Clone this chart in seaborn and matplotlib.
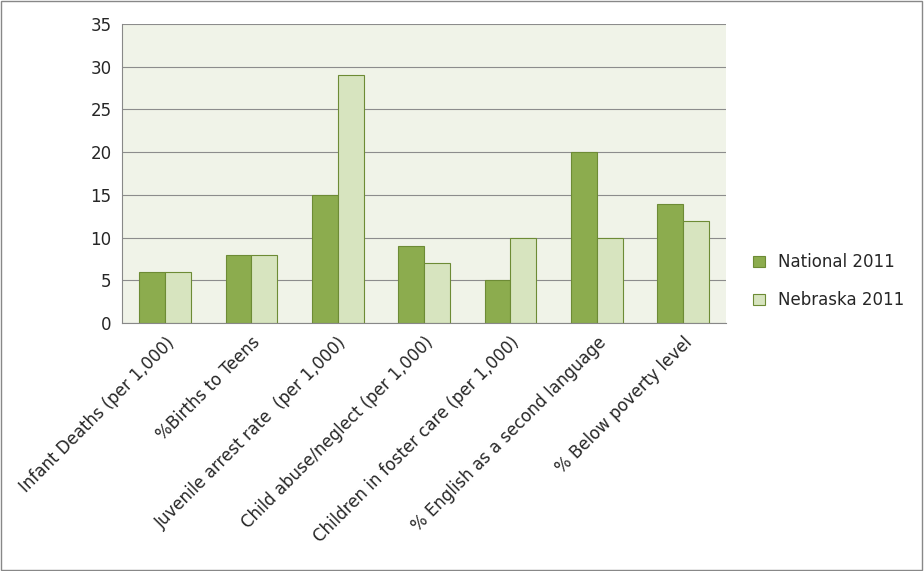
import matplotlib
matplotlib.use("Agg")
import matplotlib.pyplot as plt
import seaborn as sns
import pandas as pd
from matplotlib.patches import Rectangle

categories = ["Infant Deaths (per 1,000)", "%Births to Teens", "Juvenile arrest rate  (per 1,000)",
              "Child abuse/neglect (per 1,000)", "Children in foster care (per 1,000)",
              "% English as a second language", "% Below poverty level"]
national = [6, 8, 15, 9, 5, 20, 14]
nebraska = [6, 8, 29, 7, 10, 10, 12]
series = ["National 2011", "Nebraska 2011"]

df = pd.DataFrame({"cat": categories * 2,
                   "val": national + nebraska,
                   "series": [series[0]] * 7 + [series[1]] * 7})

sns.set_style("white")
plt.rcParams['font.family'] = ['DejaVu Sans']
fig = plt.figure(figsize=(9.24, 5.71), dpi=100)
ax = fig.add_axes([0.132, 0.434, 0.654, 0.524])
ax.set_facecolor("#f0f3e8")
sns.barplot(data=df, x="cat", y="val", hue="series", ax=ax,
            palette=["#8cac4e", "#d7e4bf"], edgecolor="#6d8b35", linewidth=0.8,
            width=0.6, saturation=1)
ax.set_ylim(0, 35)
ax.set_yticks(range(0, 36, 5))
ax.yaxis.grid(True, color="#8c8c8c", linewidth=0.8)
ax.set_axisbelow(True)
ax.set_xlabel("")
ax.set_ylabel("")
ax.set_xlim(-0.5, 6.5)
ax.tick_params(axis="y", labelsize=12, length=4, color="#888888")
ax.set_xticks(range(7))
ax.set_xticklabels(categories, rotation=45, ha="right", rotation_mode="anchor", fontsize=12)
ax.tick_params(axis="x", length=4, color="#888888")
for s in ["top", "right"]:
    ax.spines[s].set_visible(False)
for s in ["left", "bottom"]:
    ax.spines[s].set_color("#888888")
ax.legend(loc="center left", bbox_to_anchor=(1.02, 0.14), frameon=False, fontsize=12,
          handlelength=0.7, handleheight=0.7, labelspacing=1.2)
fig.patches.append(Rectangle((0.001, 0.001), 0.997, 0.997, transform=fig.transFigure,
                             fill=False, edgecolor="#888888", linewidth=1))
fig.savefig("out.png", dpi=100, facecolor="white")
